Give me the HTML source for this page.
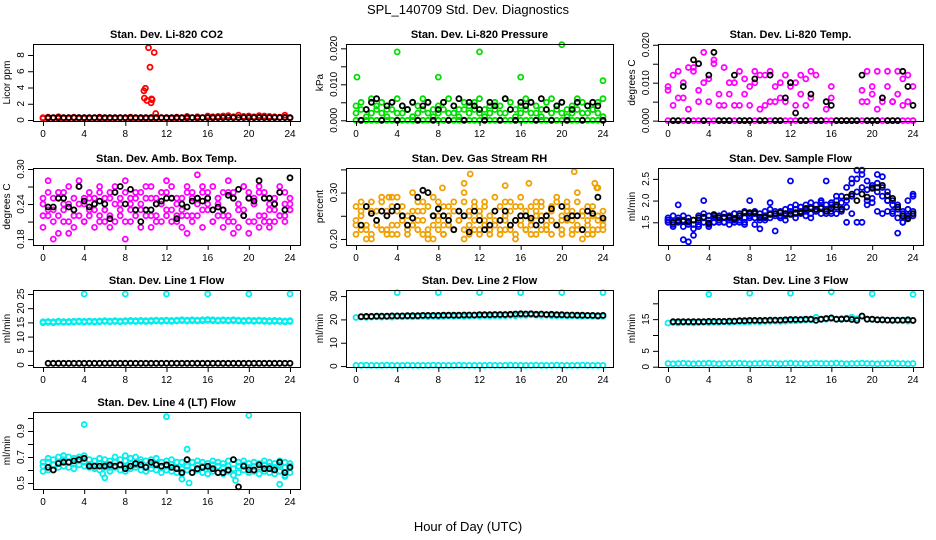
<!DOCTYPE html>
<html><head><meta charset="utf-8">
<style>
html,body{margin:0;padding:0;background:#fff;}
svg{display:block;font-family:"Liberation Sans",sans-serif;}
</style></head>
<body>
<svg id="chart" width="936" height="540" viewBox="0 0 936 540">
<rect x="0" y="0" width="936" height="540" fill="#fff"/>
<text x="468" y="14" font-size="13" text-anchor="middle">SPL_140709  Std. Dev. Diagnostics</text>
<text x="468" y="531" font-size="13" text-anchor="middle">Hour of Day (UTC)</text>
</svg>
<script>
// shared hour grid (half-hourly)
const hours = [0,0.5,1,1.5,2,2.5,3,3.5,4,4.5,5,5.5,6,6.5,7,7.5,8,8.5,9,9.5,10,10.5,11,11.5,12,12.5,13,13.5,14,14.5,15,15.5,16,16.5,17,17.5,18,18.5,19,19.5,20,20.5,21,21.5,22,22.5,23,23.5,24];
const xTicks = [0,4,8,12,16,20,24];
const xTickLabels = ["0","4","8","12","16","20","24"];

// Panel 1: CO2
const co2A = [0.3,0.35,0.3,0.4,0.3,0.3,0.35,0.3,0.3,0.3,0.3,0.35,0.3,0.3,0.3,0.3,0.3,0.35,0.3,0.3,0.3,0.3,0.3,0.3,0.3,0.3,0.35,0.3,0.45,0.3,0.4,0.3,0.5,0.4,0.45,0.5,0.55,0.4,0.6,0.45,0.5,0.4,0.55,0.5,0.45,0.4,0.35,0.6,0.3];
const co2B = [0.2,0.2,0.25,0.2,0.2,0.2,0.25,0.2,0.2,0.2,0.25,0.2,0.2,0.2,0.2,0.25,0.2,0.2,0.2,0.2,0.2,0.2,0.2,0.25,0.2,0.2,0.2,0.25,0.2,0.3,0.2,0.3,0.3,0.25,0.3,0.3,0.35,0.3,0.3,0.35,0.3,0.3,0.35,0.3,0.3,0.3,0.3,0.35,0.25];
const co2OutH = [9.8,9.95,9.85,10.1,10.25,10.4,10.5,10.6,10.8,10.95,10.55];
const co2OutV = [3.6,3.9,2.7,2.4,8.9,6.5,2.1,2.5,8.3,0.8,2.6];
const co2K = [null,0.3,0.3,0.3,0.3,0.3,0.3,0.3,0.3,0.3,0.3,0.3,0.3,0.3,0.3,0.3,0.3,0.3,0.3,0.3,0.3,0.3,0.3,0.3,0.3,0.3,0.3,0.3,0.3,0.3,0.3,0.3,0.3,0.3,0.3,0.3,0.3,0.3,0.3,0.3,0.3,0.3,0.3,0.3,0.3,0.3,0.3,0.3,0.3];
const co2Ticks = [0,2,4,6,8];
const co2Labels = ["0","2","4","6","8"];

// Panel 2: Pressure
const presA = [0,0,0,0,0,0,0,0,0,0,0,0,0,0,0,0,0,0,0,0,0,0,0,0,0,0,0,0,0,0,0,0,0,0,0,0,0,0,0,0,0,0,0,0,0,0,0,0,0];
const presB = [0.004,0.005,0.003,0.006,0.004,0.005,0.003,0.005,0.006,0.004,0.003,0.005,0.004,0.006,0.005,0.003,0.004,0.005,0.006,0.004,0.003,0.005,0.004,0.005,0.006,0.003,0.004,0.005,0.004,0.006,0.005,0.003,0.004,0.006,0.005,0.004,0.003,0.005,0.006,0.004,0.005,0.003,0.004,0.006,0.005,0.004,0.003,0.005,0.006];
const presC = [0.002,0.003,0.001,0.002,0.003,0.002,0.001,0.003,0.002,0.002,0.003,0.001,0.002,0.003,0.002,0.001,0.002,0.003,0.002,0.002,0.001,0.003,0.002,0.003,0.002,0.001,0.002,0.003,0.002,0.002,0.003,0.001,0.002,0.003,0.002,0.002,0.001,0.003,0.002,0.003,0.002,0.001,0.002,0.003,0.002,0.002,0.003,0.002,0.001];
const presOutH = [0.1,4,8,12,16,20,24];
const presOutV = [0.012,0.019,0.012,0.019,0.012,0.021,0.011];
const presK = [null,0,0.003,0.005,0.006,0,0.004,0.005,0,0.004,0.003,0.005,0,0.004,0.005,0,0.003,0.005,0,0.004,0.006,0,0.005,0.004,0.003,0,0.005,0.004,0,0.006,0.003,0,0.005,0.004,0.005,0,0.006,0.003,0,0.004,0.005,0,0.003,0.005,0,0.004,0.005,0.004,0];
const presTicks = [0,0.005,0.010,0.015,0.020];
const presLabels = ["0.000","","0.010","","0.020"];

// Panel 3: Li-820 Temp
const tmpA = [0,0,0,0,0,0,0,0,0,0,0,0,0,0,0,0,0,0,0,0,0,0,0,0,0,0,0,0,0,0,0,0,0,0,0,0,0,0,0,0,0,0,0,0,0,0,0,0,0];
const tmpB = [0.009,0.012,0.013,0.006,0.014,0.013,0.008,0.018,0.011,0.016,0.004,0.014,0.010,0.004,0.013,0.011,0.009,0.013,0.012,0.004,0.013,0.005,0.010,0.012,0.009,0.010,0.012,0.011,0.013,null,null,0.003,0.009,null,null,null,null,null,0.005,0.013,0.009,0.013,0.006,0.013,0.005,0.013,0.011,0.012,0.000];
const tmpC = [0.008,0.004,0.006,0.010,0.003,0.014,0.005,0.010,0.005,0.015,0.007,0.004,0.007,0.010,0.004,0.007,0.004,0.010,0.003,0.012,0.005,0.009,0.006,0.005,0.010,0.004,0.007,0.004,0.006,0.012,null,null,0.006,null,null,null,null,null,0.008,0.005,0.007,0.003,0.005,0.009,0.005,0.007,0.004,0.005,0.009];
const tmpK = [null,0,0,0.009,0,0.016,0.015,0,0.012,0.018,0,0,0,0.012,0,0,0,0.011,0,0,0.012,0,0,0.006,0.010,0.002,0,0,0.007,0,0,0.005,0.004,0,0,0,0,0,0.012,0,0,0,0.006,0,0,0,0.013,0.009,0.004];
const tmpTicks = [0,0.005,0.010,0.015,0.020];
const tmpLabels = ["0.000","","0.010","","0.020"];

// Panel 4: Amb. Box Temp
const ambA = [0.24,0.23,0.25,0.22,0.26,0.24,0.23,0.27,0.25,0.22,0.24,0.26,0.23,0.25,0.24,0.22,0.26,0.23,0.25,0.24,0.27,0.22,0.25,0.24,0.26,0.23,0.24,0.25,0.22,0.26,0.24,0.27,0.25,0.23,0.24,0.26,0.22,0.25,0.24,0.23,0.26,0.24,0.22,0.25,0.24,0.23,0.26,0.24,0.25];
const ambB = [0.22,0.26,0.21,0.25,0.23,0.21,0.25,0.24,0.21,0.25,0.23,0.21,0.25,0.22,0.26,0.24,0.21,0.25,0.22,0.26,0.23,0.25,0.21,0.26,0.22,0.25,0.21,0.23,0.26,0.22,0.25,0.23,0.26,0.21,0.25,0.23,0.26,0.21,0.24,0.27,0.21,0.25,0.26,0.21,0.23,0.25,0.22,0.26,0.23];
const ambC = [0.25,0.28,0.23,0.26,0.24,0.27,0.22,0.28,0.24,0.26,0.25,0.27,0.21,0.26,0.27,0.25,0.28,0.24,0.26,0.23,0.25,0.27,0.24,0.26,0.28,0.27,0.25,0.22,0.27,0.25,0.29,0.26,0.24,0.27,0.25,0.22,0.28,0.26,0.23,0.27,0.25,0.24,0.27,0.26,0.21,0.24,0.27,0.22,0.24];
const ambD = [0.20,0.22,0.18,0.19,0.21,0.19,0.20,0.22,0.21,0.23,0.20,0.22,0.23,0.20,0.21,0.23,0.18,0.21,0.23,0.20,0.22,0.20,0.22,0.21,0.23,0.21,0.22,0.20,0.19,0.21,0.22,0.20,0.23,0.21,0.22,0.20,0.21,0.19,0.20,0.22,0.19,0.21,0.20,0.22,0.20,0.21,0.22,0.21,0.23];
const ambK = [null,0.235,0.235,0.25,0.25,0.235,0.23,0.27,0.245,0.235,0.24,0.245,0.24,0.215,0.26,0.27,0.24,0.265,0.23,0.21,0.23,0.23,0.24,0.245,0.25,0.25,0.215,0.24,0.235,0.245,0.25,0.245,0.25,0.23,0.235,0.23,0.255,0.25,0.265,0.22,0.25,0.245,0.28,0.25,0.25,0.24,0.26,0.23,0.285];
const ambTicks = [0.18,0.21,0.24,0.27,0.30];
const ambLabels = ["0.18","","0.24","","0.30"];

// Panel 5: Gas Stream RH
const rhA = [0.24,0.25,0.23,0.26,0.24,0.22,0.25,0.23,0.26,0.24,0.25,0.23,0.24,0.26,0.22,0.25,0.24,0.23,0.25,0.26,0.24,0.22,0.25,0.24,0.26,0.23,0.25,0.24,0.22,0.25,0.26,0.24,0.23,0.25,0.24,0.26,0.22,0.25,0.24,0.23,0.25,0.26,0.24,0.23,0.25,0.24,0.22,0.25,0.24];
const rhB = [0.27,0.22,0.27,0.21,0.26,0.28,0.22,0.27,0.21,0.27,0.22,0.26,0.28,0.21,0.27,0.23,0.28,0.21,0.27,0.22,0.26,0.28,0.21,0.27,0.22,0.28,0.21,0.26,0.27,0.22,0.28,0.21,0.27,0.26,0.21,0.28,0.27,0.22,0.26,0.28,0.21,0.27,0.22,0.28,0.26,0.21,0.27,0.22,0.26];
const rhC = [0.23,0.28,0.20,0.28,0.23,0.29,0.26,0.21,0.29,0.25,0.23,0.30,0.26,0.28,0.21,0.29,0.25,0.27,0.23,0.28,0.24,0.30,0.26,0.28,0.25,0.27,0.22,0.29,0.24,0.28,0.23,0.27,0.29,0.22,0.27,0.25,0.28,0.23,0.27,0.29,0.24,0.28,0.26,0.30,0.22,0.27,0.25,0.31,0.23];
const rhD = [0.21,0.26,0.22,0.20,0.24,0.22,0.21,0.29,0.23,0.25,0.21,0.23,0.22,0.24,0.20,0.25,0.22,0.21,0.23,0.22,0.24,0.20,0.23,0.22,0.21,0.24,0.22,0.23,0.21,0.24,0.22,0.20,0.24,0.22,0.23,0.21,0.25,0.22,0.21,0.23,0.22,0.24,0.21,0.22,0.20,0.23,0.21,0.24,0.22];
const rhOutH = [7.5,11.1,10.5,14.5,16.8,21.2,23.2,23.4,8.4,3.2];
const rhOutV = [0.20,0.34,0.32,0.315,0.32,0.345,0.32,0.31,0.31,0.29];
const rhK = [null,0.23,0.27,0.255,0.24,0.26,0.25,0.26,0.27,0.25,0.23,0.245,0.29,0.305,0.30,0.25,0.265,0.25,0.24,0.22,0.26,0.25,0.215,0.26,0.24,0.22,0.23,0.26,0.24,0.26,0.23,0.24,0.25,0.25,0.245,0.23,0.24,0.25,0.265,0.23,0.27,0.245,0.25,0.25,0.22,0.26,0.255,0.29,0.245];
const rhTicks = [0.20,0.25,0.30,0.35];
const rhLabels = ["0.20","","0.30",""];

// Panel 6: Sample Flow
const sfA = [1.55,1.5,1.6,1.55,1.5,1.45,1.55,1.6,1.55,1.6,1.55,1.6,1.6,1.55,1.65,1.6,1.65,1.7,1.6,1.65,1.7,1.7,1.65,1.7,1.75,1.8,1.75,1.8,1.85,1.8,1.85,1.8,1.9,1.85,1.95,2.0,2.1,2.2,2.3,2.25,2.3,2.2,2.1,2.0,1.9,1.8,1.7,1.65,1.75];
const sfB = [1.5,1.45,1.5,1.4,1.45,1.35,1.45,1.5,1.45,1.5,1.5,1.5,1.55,1.5,1.55,1.5,1.6,1.6,1.55,1.6,1.6,1.65,1.6,1.65,1.7,1.7,1.7,1.75,1.7,1.75,1.7,1.7,1.75,1.7,1.8,1.85,1.7,1.5,1.5,2.0,1.95,1.75,1.7,1.75,1.7,1.6,1.5,1.6,1.65];
const sfC = [1.6,1.65,1.55,1.65,1.6,1.55,1.65,1.7,1.65,1.65,1.6,1.7,1.65,1.7,1.7,1.75,1.7,1.75,1.7,1.75,1.8,1.75,1.75,1.8,1.85,1.9,1.85,1.9,1.95,1.9,1.95,1.9,1.95,2.0,2.1,2.3,2.4,2.5,2.6,2.45,2.35,2.4,2.3,2.2,2.0,1.9,1.75,1.8,2.1];
const sfD = [1.55,1.4,1.9,1.1,1.05,1.2,1.4,2.0,1.4,1.5,1.65,1.5,1.45,1.7,1.5,1.45,2.0,1.45,1.35,1.55,1.95,1.3,1.6,1.55,2.45,1.6,1.85,1.65,1.6,1.75,2.0,2.45,1.7,2.1,1.75,1.5,2.5,2.7,2.7,1.9,2.05,2.6,2.55,2.0,1.75,1.25,1.5,2.0,2.15];
const sfK = [null,1.5,1.52,1.52,1.52,1.55,1.6,1.62,1.48,1.68,1.6,1.62,1.62,1.58,1.65,1.72,1.72,1.72,1.62,1.62,1.68,1.7,1.72,1.7,1.68,1.72,1.72,1.82,1.82,1.8,1.82,1.75,1.82,1.9,1.8,2.08,2.15,2.0,2.15,2.08,2.28,2.3,2.35,2.12,2.05,1.85,1.65,1.58,1.7];
const sfTicks = [1.5,2.0,2.5];
const sfLabels = ["1.5","2.0","2.5"];

// Panel 7: Line 1 Flow
const l1A = [15.2,15.3,15.2,15.4,15.3,15.3,15.4,15.5,15.4,15.5,15.4,15.5,15.6,15.5,15.6,15.5,15.6,15.7,15.6,15.7,15.6,15.7,15.8,15.7,15.8,15.7,15.8,15.9,15.8,15.9,15.8,15.9,16.0,15.9,15.8,15.9,15.8,15.9,15.8,15.7,15.8,15.7,15.8,15.7,15.6,15.7,15.6,15.5,15.6];
const l1B = [14.9,15.0,14.9,15.1,15.0,15.0,15.1,15.2,15.1,15.2,15.1,15.2,15.3,15.2,15.3,15.2,15.3,15.4,15.3,15.4,15.3,15.4,15.5,15.4,15.5,15.4,15.5,15.6,15.5,15.6,15.5,15.6,15.7,15.6,15.5,15.6,15.5,15.6,15.5,15.4,15.5,15.4,15.5,15.4,15.3,15.4,15.3,15.2,15.3];
const l1OutH = [4,8,12,16,20,24];
const l1OutV = [25,25,25,25,25,25];
const l1K = [null,0.6,0.6,0.6,0.6,0.6,0.6,0.6,0.6,0.6,0.6,0.6,0.6,0.6,0.6,0.6,0.6,0.6,0.6,0.6,0.6,0.6,0.6,0.6,0.6,0.6,0.6,0.6,0.6,0.6,0.6,0.6,0.6,0.6,0.6,0.6,0.6,0.6,0.6,0.6,0.6,0.6,0.6,0.6,0.6,0.6,0.6,0.6,0.6];
const l1Ticks = [0,5,10,15,20,25];
const l1Labels = ["0","5","10","15","20","25"];

// Panel 8: Line 2 Flow
const l2A = [20.8,21.0,20.9,21.0,21.1,21.0,21.1,21.0,21.2,21.1,21.2,21.1,21.2,21.3,21.2,21.3,21.2,21.3,21.4,21.3,21.4,21.3,21.4,21.5,21.4,21.5,21.4,21.6,21.5,21.6,21.7,21.6,21.8,21.7,22.0,21.8,21.7,21.8,21.6,21.5,21.6,21.4,21.5,21.4,21.3,21.4,21.3,21.2,21.3];
const l2B = [0.3,0.3,0.4,0.3,0.3,0.3,0.4,0.3,0.3,0.3,0.4,0.3,0.3,0.3,0.3,0.4,0.3,0.3,0.3,0.3,0.4,0.3,0.3,0.3,0.3,0.3,0.4,0.3,0.3,0.3,0.4,0.3,0.3,0.3,0.3,0.4,0.3,0.3,0.3,0.4,0.3,0.3,0.3,0.3,0.4,0.3,0.3,0.3,0.3];
const l2OutH = [4,8,12,16,20,24];
const l2OutV = [31.5,31.5,31.5,31.5,31.5,31.5];
const l2K = [null,21.2,21.3,21.3,21.4,21.4,21.4,21.5,21.5,21.5,21.6,21.6,21.6,21.7,21.7,21.7,21.7,21.8,21.8,21.8,21.8,21.9,21.9,21.9,22.0,22.0,22.0,22.1,22.1,22.1,22.2,22.3,22.4,22.3,22.4,22.2,22.3,22.1,22.2,22.0,22.0,21.9,21.9,21.8,21.8,21.7,21.7,21.6,21.7];
const l2Ticks = [0,10,20,30];
const l2Labels = ["0","10","20","30"];

// Panel 9: Line 3 Flow
const l3A = [13.8,13.9,13.8,13.9,13.9,13.8,13.9,14.0,13.9,14.0,14.0,14.1,14.0,14.1,14.2,14.1,14.2,14.3,14.2,14.3,14.3,14.4,14.3,14.4,14.5,14.5,14.6,14.7,14.8,15.6,14.9,15.0,15.1,15.0,15.2,15.3,15.6,15.1,15.9,15.0,14.9,14.8,14.7,14.6,14.5,14.6,14.5,14.4,14.5];
const l3B = [1.0,0.9,1.0,1.1,1.0,0.9,1.0,1.0,1.1,1.0,0.9,1.0,1.0,1.0,1.1,1.0,0.9,1.0,1.0,1.1,1.0,1.0,0.9,1.0,1.1,1.0,1.0,0.9,1.0,1.1,1.0,1.0,1.0,1.1,1.0,0.9,1.0,1.0,1.1,1.0,1.0,0.9,1.0,1.0,1.1,1.0,1.0,0.9,1.0];
const l3OutH = [4,8,12,16,20,24];
const l3OutV = [22.8,23.2,23.2,23.6,23.0,22.8];
const l3K = [null,14.2,14.2,14.2,14.2,14.2,14.2,14.2,14.3,14.3,14.3,14.3,14.4,14.4,14.5,14.5,14.6,14.6,14.6,14.6,14.7,14.7,14.7,14.8,14.9,14.9,14.9,15.0,15.0,14.6,15.0,15.2,15.4,15.0,15.0,15.1,14.9,14.6,16.0,15.0,15.0,14.8,14.8,14.7,14.7,14.7,14.7,14.8,14.6];
const l3Ticks = [0,5,10,15,20];
const l3Labels = ["0","5","","15",""];

// Panel 10: Line 4 (LT) Flow
const l4A = [0.63,0.60,0.64,0.66,0.68,0.66,0.65,0.67,0.66,0.64,0.63,0.65,0.64,0.62,0.66,0.64,0.62,0.65,0.64,0.66,0.63,0.64,0.65,0.62,0.63,0.64,0.62,0.61,0.63,0.62,0.64,0.63,0.62,0.64,0.63,0.62,0.63,0.61,0.63,0.64,0.62,0.63,0.62,0.64,0.63,0.62,0.64,0.62,0.63];
const l4B = [0.59,0.66,0.60,0.62,0.63,0.62,0.61,0.64,0.63,0.62,0.61,0.60,0.62,0.59,0.62,0.60,0.59,0.61,0.62,0.60,0.59,0.61,0.60,0.58,0.60,0.59,0.58,0.57,0.60,0.58,0.60,0.58,0.57,0.59,0.58,0.57,0.59,0.56,0.58,0.60,0.58,0.59,0.57,0.59,0.58,0.57,0.59,0.56,0.58];
const l4C = [0.66,0.69,0.68,0.70,0.71,0.70,0.69,0.70,0.71,0.68,0.67,0.69,0.68,0.67,0.70,0.68,0.67,0.69,0.70,0.68,0.67,0.68,0.69,0.66,0.67,0.68,0.66,0.66,0.68,0.66,0.67,0.66,0.65,0.67,0.66,0.65,0.67,0.68,0.66,0.67,0.65,0.66,0.65,0.67,0.66,0.65,0.67,0.66,0.65];
const l4OutH = [4,12,20,14,5.8,6,14.2,13.5,18.7,23,23.5,2,8];
const l4OutV = [0.95,1.01,1.02,0.76,0.57,0.54,0.50,0.53,0.52,0.49,0.55,0.71,0.71];
const l4K = [null,0.62,0.60,0.65,0.66,0.66,0.67,0.68,0.69,0.63,0.63,0.63,0.63,0.64,0.63,0.64,0.61,0.63,0.65,0.64,0.62,0.66,0.64,0.63,0.64,0.62,0.61,0.58,0.68,0.58,0.61,0.62,0.63,0.61,0.58,0.58,0.60,0.68,0.47,0.63,0.60,0.60,0.64,0.61,0.61,0.60,0.66,0.58,0.62];
const l4Ticks = [0.5,0.6,0.7,0.8,0.9,1.0];
const l4Labels = ["0.5","","0.7","","0.9",""];

const NS = "http://www.w3.org/2000/svg";
const svg = document.getElementById('chart');
function mk(tag, attrs, parent){
  const e = document.createElementNS(NS, tag);
  for (const k in attrs) e.setAttribute(k, attrs[k]);
  (parent||svg).appendChild(e);
  return e;
}
const cols = [{x0:43,x24:290},{x0:356,x24:603},{x0:668,x24:913}];
const rows = [44,168,290,412];
const BOXH = 77;
const ORANGE = "#f0a000", MAG = "#ff00ff", CYAN = "#00eeee";
const panels = [
 {name:"co2",title:"Stan. Dev. Li-820 CO2",ylab:"Licor ppm",c:0,r:0,lo:-0.12,hi:9.35,ticks:co2Ticks,labels:co2Labels,
  series:[[hours,co2B,"#ff0000"],[hours,co2A,"#ff0000"],[co2OutH,co2OutV,"#ff0000"],[hours,co2K,"#000"]]},
 {name:"pressure",title:"Stan. Dev. Li-820 Pressure",ylab:"kPa",c:1,r:0,lo:-0.0002,hi:0.0212,ticks:presTicks,labels:presLabels,
  series:[[hours,presA,"#00dd00"],[hours,presC,"#00dd00"],[hours,presB,"#00dd00"],[presOutH,presOutV,"#00dd00"],[hours,presK,"#000"]]},
 {name:"li820-temp",title:"Stan. Dev. Li-820 Temp.",ylab:"degrees C",c:2,r:0,lo:-0.0001,hi:0.0202,ticks:tmpTicks,labels:tmpLabels,
  series:[[hours,tmpA,MAG],[hours,tmpB,MAG],[hours,tmpC,MAG],[hours,tmpK,"#000"]]},
 {name:"amb-box-temp",title:"Stan. Dev. Amb. Box Temp.",ylab:"degrees C",c:0,r:1,lo:0.1699,hi:0.3017,ticks:ambTicks,labels:ambLabels,
  series:[[hours,ambD,MAG],[hours,ambB,MAG],[hours,ambA,MAG],[hours,ambC,MAG],[hours,ambK,"#000"]]},
 {name:"gas-stream-rh",title:"Stan. Dev. Gas Stream RH",ylab:"percent",c:1,r:1,lo:0.187,hi:0.353,ticks:rhTicks,labels:rhLabels,
  series:[[hours,rhD,ORANGE],[hours,rhB,ORANGE],[hours,rhA,ORANGE],[hours,rhC,ORANGE],[rhOutH,rhOutV,ORANGE],[hours,rhK,"#000"]]},
 {name:"sample-flow",title:"Stan. Dev. Sample Flow",ylab:"ml/min",c:2,r:1,lo:0.977,hi:2.75,ticks:sfTicks,labels:sfLabels,
  series:[[hours,sfD,"#0000ee"],[hours,sfB,"#0000ee"],[hours,sfC,"#0000ee"],[hours,sfA,"#0000ee"],[hours,sfK,"#000"]]},
 {name:"line1-flow",title:"Stan. Dev. Line 1 Flow",ylab:"ml/min",c:0,r:2,lo:-0.7,hi:26.4,ticks:l1Ticks,labels:l1Labels,
  series:[[hours,l1B,CYAN],[hours,l1A,CYAN],[l1OutH,l1OutV,CYAN],[hours,l1K,"#000"]]},
 {name:"line2-flow",title:"Stan. Dev. Line 2 Flow",ylab:"ml/min",c:1,r:2,lo:-0.4,hi:32.6,ticks:l2Ticks,labels:l2Labels,
  series:[[hours,l2B,CYAN],[hours,l2A,CYAN],[l2OutH,l2OutV,CYAN],[hours,l2K,"#000"]]},
 {name:"line3-flow",title:"Stan. Dev. Line 3 Flow",ylab:"ml/min",c:2,r:2,lo:-0.1,hi:24.2,ticks:l3Ticks,labels:l3Labels,
  series:[[hours,l3B,CYAN],[hours,l3A,CYAN],[l3OutH,l3OutV,CYAN],[hours,l3K,"#000"]]},
 {name:"line4-flow",title:"Stan. Dev. Line 4 (LT) Flow",ylab:"ml/min",c:0,r:3,lo:0.454,hi:1.046,ticks:l4Ticks,labels:l4Labels,
  series:[[hours,l4B,CYAN],[hours,l4C,CYAN],[hours,l4A,CYAN],[l4OutH,l4OutV,CYAN],[hours,l4K,"#000"]]}
];

panels.forEach(p => {
  const col = cols[p.c], top = rows[p.r], bot = top + BOXH;
  const left = col.x0 - 10, right = col.x24 + 10;
  const xs = h => col.x0 + (col.x24 - col.x0) * h / 24;
  const ys = v => bot - (v - p.lo) / (p.hi - p.lo) * BOXH;
  const g = mk('g', {});
  
  
  const t = mk('text', {x:(left+right)/2, y:top-6, 'font-size':11, 'font-weight':'bold', 'text-anchor':'middle'}, g);
  t.textContent = p.title;
  
  
  const yl = mk('text', {x:0, y:0, 'font-size':10, 'text-anchor':'middle', transform:`translate(${left-23},${(top+bot)/2}) rotate(-90)`}, g);
  yl.textContent = p.ylab;
  
  
  const pg = mk('g', {fill:'none', 'stroke-width':1.8}, g);
  
  
  p.series.forEach(s => {
    const hx = s[0], vy = s[1], color = s[2];
    for (let i = 0; i < vy.length; i++) {
      if (vy[i] === null || vy[i] === undefined) continue;
      const c = mk('circle', {cx:xs(hx[i]).toFixed(1), cy:ys(vy[i]).toFixed(1), r:2.5, stroke:color}, pg);
      
      
    }
  });
  const box = mk('rect', {x:left+0.5, y:top+0.5, width:right-left, height:BOXH, fill:'none', stroke:'#000', 'stroke-width':1}, g);
  
  
  const xa = mk('g', {}, g);
  
  
  mk('line', {x1:xs(xTicks[0]), x2:xs(xTicks[xTicks.length-1]), y1:bot+0.5, y2:bot+0.5, stroke:'#000'}, xa);
  xTicks.forEach((v, i) => {
    mk('line', {x1:xs(v)+0.5, x2:xs(v)+0.5, y1:bot, y2:bot+5, stroke:'#000'}, xa);
    const tl = mk('text', {x:xs(v), y:bot+16, 'font-size':10, 'text-anchor':'middle'}, xa);
    tl.textContent = xTickLabels[i];
    
    
  });
  const ya = mk('g', {}, g);
  
  
  mk('line', {x1:left+0.5, x2:left+0.5, y1:ys(p.ticks[0]), y2:ys(p.ticks[p.ticks.length-1]), stroke:'#000'}, ya);
  p.ticks.forEach((v, i) => {
    const y = ys(v);
    mk('line', {x1:left-5, x2:left, y1:y+0.5, y2:y+0.5, stroke:'#000'}, ya);
    if (p.labels[i]) {
      const tl = mk('text', {x:0, y:0, 'font-size':10, 'text-anchor':'middle', transform:`translate(${left-9},${y}) rotate(-90)`}, ya);
      tl.textContent = p.labels[i];
      
      
    }
  });
});
</script>
</body></html>
